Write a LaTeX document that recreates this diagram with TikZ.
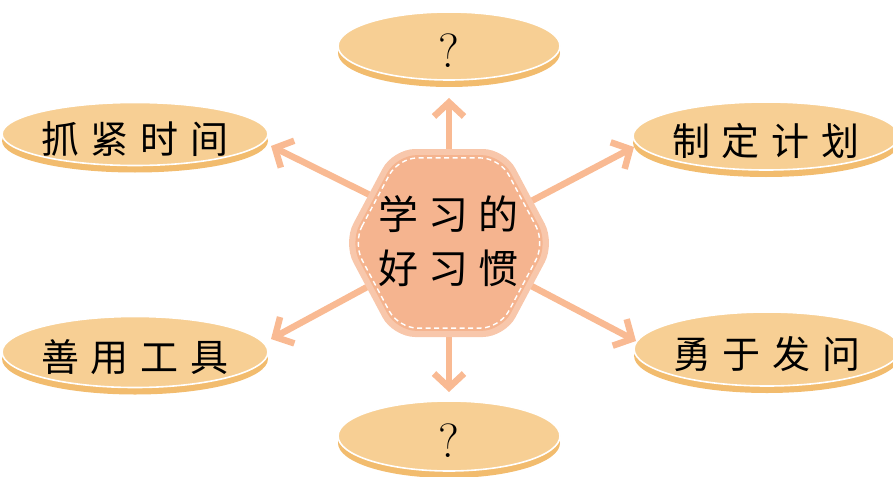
\documentclass[tikz,border=0pt]{standalone}
\usepackage{fontspec}
\newfontfamily\cjk{Noto Sans CJK SC}
\usetikzlibrary{shapes.geometric,arrows.meta}
\definecolor{face}{HTML}{F7CF94}
\definecolor{rim}{HTML}{F2BC6E}
\definecolor{hexout}{HTML}{F8C7AB}
\definecolor{hexin}{HTML}{F5B48F}
\definecolor{arr}{HTML}{F9BA93}
\newcommand\gp{\hspace{12pt}}
\newcommand\lowtxt[1]{\raisebox{-5pt}[\height][\depth]{#1}}
\begin{document}
\begin{tikzpicture}[x=1pt,y=-1pt,
  coin/.style={ellipse, inner sep=0pt, fill=face, draw=white, line width=1.6pt,
    preaction={draw=none, fill=rim, transform canvas={yshift=-7pt}},
    font=\cjk\fontsize{38}{42}\selectfont},
  qmark/.style={font=\rmfamily\fontsize{48}{52}\selectfont},
  link/.style={draw=arr, line width=6.5pt, -{Straight Barb[length=14pt,width=30pt]}},
  hextext/.style={align=center, font=\cjk\fontsize{40}{54}\selectfont, inner sep=0pt}]
\useasboundingbox (0,0) rectangle (893,476);

% outer nodes
\node[coin, qmark, minimum width=222pt, minimum height=68pt] (top) at (449,46) {\lowtxt{?}};
\node[coin, qmark, minimum width=222pt, minimum height=70pt] (bot) at (449,436) {\lowtxt{?}};
\node[coin, minimum width=253pt, minimum height=63pt] (ul) at (135,134) {\lowtxt{抓\gp 紧\gp 时\gp 间}};
\node[coin, minimum width=253pt, minimum height=71pt] (ll) at (135,352) {\lowtxt{善\gp 用\gp 工\gp 具}};
\node[coin, minimum width=248pt, minimum height=68pt] (ur) at (766,136) {\lowtxt{制\gp 定\gp 计\gp 划}};
\node[coin, minimum width=248pt, minimum height=74pt] (lr) at (767,349) {\lowtxt{勇\gp 于\gp 发\gp 问}};

% arrow coordinates
\coordinate (hU) at (449,170);
\coordinate (aU) at (449,98);
\coordinate (hD) at (449,320);
\coordinate (aD) at (449,392);
\coordinate (hUL) at (380,200);
\coordinate (aUL) at (271,146);
\coordinate (hLL) at (380,280);
\coordinate (aLL) at (271,339);
\coordinate (hUR) at (520,207);
\coordinate (aUR) at (634,147);
\coordinate (hLR) at (520,280);
\coordinate (aLR) at (636,341);

\draw[link] (hU) -- (aU);
\draw[link] (hD) -- (aD);
\draw[link] (hUL) -- (aUL);
\draw[link] (hLL) -- (aLL);
\draw[link] (hUR) -- (aUR);
\draw[link] (hLR) -- (aLR);

% central hexagon
\begin{scope}[shift={(449,243)}]
  \fill[hexout, rounded corners=22pt] (-106,0) -- (-56,-94) -- (56,-94) -- (106,0) -- (56,94) -- (-56,94) -- cycle;
  \fill[hexin, rounded corners=20pt, scale=0.935] (-106,0) -- (-56,-94) -- (56,-94) -- (106,0) -- (56,94) -- (-56,94) -- cycle;
  \draw[white, line width=1.4pt, dash pattern=on 5pt off 3.5pt, rounded corners=19pt, scale=0.905] (-106,0) -- (-56,-94) -- (56,-94) -- (106,0) -- (56,94) -- (-56,94) -- cycle;
\end{scope}
\node[hextext] (hex) at (448,241) {学\hspace{10pt}习\hspace{10pt}的\\好\hspace{10pt}习\hspace{10pt}惯};
\end{tikzpicture}
\end{document}
